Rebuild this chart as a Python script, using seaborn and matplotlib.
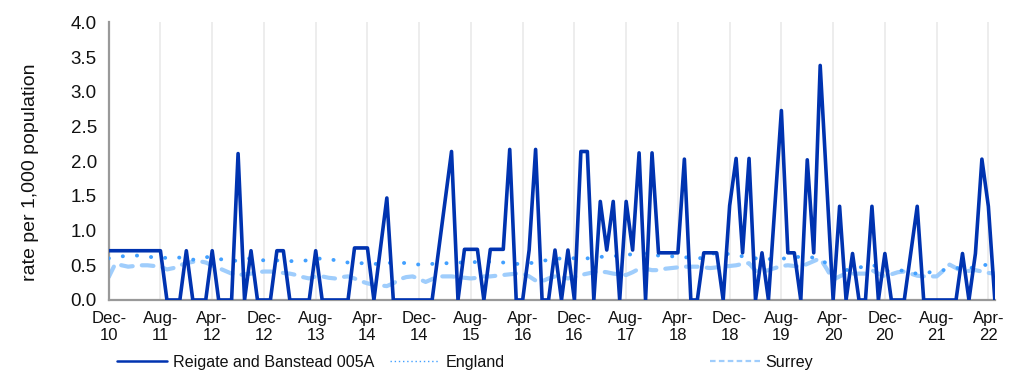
import numpy as np
import pandas as pd
import matplotlib
matplotlib.use("Agg")
import matplotlib.pyplot as plt
from matplotlib.lines import Line2D
import seaborn as sns

sns.set_style("white")
plt.rcParams['font.family'] = ['Liberation Sans', 'DejaVu Sans']

# Monthly rates per 1,000 population, Dec 2010 to May 2022
reigate = [
    0.71, 0.71, 0.71, 0.71, 0.71, 0.71, 0.71, 0.71, 0.71, 0.00,
    0.00, 0.00, 0.71, 0.00, 0.00, 0.00, 0.71, 0.00, 0.00, 0.00,
    2.11, 0.00, 0.71, 0.00, 0.00, 0.00, 0.71, 0.71, 0.00, 0.00,
    0.00, 0.00, 0.71, 0.00, 0.00, 0.00, 0.00, 0.00, 0.75, 0.75,
    0.75, 0.00, 0.74, 1.47, 0.00, 0.00, 0.00, 0.00, 0.00, 0.00,
    0.00, 0.71, 1.43, 2.14, 0.00, 0.73, 0.73, 0.73, 0.00, 0.73,
    0.73, 0.73, 2.17, 0.00, 0.00, 0.72, 2.17, 0.00, 0.00, 0.72,
    0.00, 0.72, 0.00, 2.14, 2.14, 0.00, 1.42, 0.72, 1.42, 0.00,
    1.42, 0.72, 2.12, 0.00, 2.12, 0.68, 0.68, 0.68, 0.68, 2.03,
    0.00, 0.00, 0.68, 0.68, 0.68, 0.00, 1.36, 2.04, 0.68, 2.04,
    0.00, 0.68, 0.00, 1.37, 2.73, 0.68, 0.68, 0.00, 2.02, 0.68,
    3.38, 1.69, 0.00, 1.35, 0.00, 0.67, 0.00, 0.00, 1.35, 0.00,
    0.67, 0.00, 0.00, 0.00, 0.67, 1.35, 0.00, 0.00, 0.00, 0.00,
    0.00, 0.00, 0.67, 0.00, 0.67, 2.03, 1.35, 0.00,
]
england = [
    0.60, 0.62, 0.63, 0.63, 0.64, 0.64, 0.63, 0.61, 0.60, 0.61,
    0.62, 0.61, 0.59, 0.58, 0.60, 0.62, 0.61, 0.59, 0.58, 0.56,
    0.57, 0.59, 0.60, 0.59, 0.57, 0.56, 0.57, 0.57, 0.56, 0.56,
    0.56, 0.58, 0.59, 0.60, 0.60, 0.57, 0.55, 0.54, 0.54, 0.53,
    0.53, 0.52, 0.52, 0.53, 0.54, 0.54, 0.53, 0.52, 0.51, 0.51,
    0.52, 0.53, 0.53, 0.53, 0.54, 0.54, 0.54, 0.55, 0.55, 0.55,
    0.55, 0.54, 0.53, 0.52, 0.52, 0.53, 0.54, 0.56, 0.58, 0.59,
    0.60, 0.61, 0.60, 0.59, 0.60, 0.61, 0.62, 0.63, 0.63, 0.64,
    0.65, 0.66, 0.68, 0.67, 0.66, 0.64, 0.64, 0.63, 0.62, 0.62,
    0.60, 0.59, 0.62, 0.66, 0.68, 0.67, 0.66, 0.64, 0.63, 0.62,
    0.60, 0.60, 0.59, 0.59, 0.59, 0.61, 0.62, 0.62, 0.62, 0.61,
    0.60, 0.52, 0.38, 0.40, 0.43, 0.45, 0.47, 0.48, 0.51, 0.47,
    0.42, 0.42, 0.43, 0.42, 0.39, 0.38, 0.39, 0.40, 0.41, 0.43,
    0.45, 0.46, 0.46, 0.46, 0.47, 0.51, 0.50, 0.48,
]
surrey = [
    0.33, 0.52, 0.50, 0.48, 0.49, 0.50, 0.50, 0.49, 0.48, 0.44,
    0.46, 0.50, 0.53, 0.55, 0.56, 0.54, 0.50, 0.46, 0.42, 0.38,
    0.36, 0.37, 0.38, 0.40, 0.41, 0.41, 0.40, 0.39, 0.38, 0.36,
    0.33, 0.31, 0.34, 0.34, 0.32, 0.31, 0.33, 0.34, 0.31, 0.27,
    0.24, 0.22, 0.21, 0.20, 0.24, 0.30, 0.33, 0.34, 0.30, 0.26,
    0.30, 0.34, 0.34, 0.34, 0.33, 0.32, 0.31, 0.32, 0.34, 0.34,
    0.35, 0.36, 0.37, 0.38, 0.38, 0.34, 0.28, 0.27, 0.31, 0.34,
    0.33, 0.31, 0.33, 0.36, 0.38, 0.40, 0.41, 0.40, 0.38, 0.37,
    0.36, 0.40, 0.45, 0.45, 0.43, 0.43, 0.45, 0.46, 0.47, 0.48,
    0.48, 0.48, 0.47, 0.46, 0.47, 0.48, 0.49, 0.50, 0.52, 0.53,
    0.42, 0.41, 0.43, 0.46, 0.49, 0.50, 0.49, 0.48, 0.52, 0.56,
    0.60, 0.45, 0.29, 0.34, 0.38, 0.38, 0.38, 0.38, 0.43, 0.38,
    0.34, 0.37, 0.40, 0.41, 0.38, 0.35, 0.34, 0.34, 0.34, 0.42,
    0.51, 0.46, 0.41, 0.42, 0.43, 0.41, 0.39, 0.38,
]
tick_labels = ["Dec-\n10", "Aug-\n11", "Apr-\n12", "Dec-\n12", "Aug-\n13", "Apr-\n14",
               "Dec-\n14", "Aug-\n15", "Apr-\n16", "Dec-\n16", "Aug-\n17", "Apr-\n18",
               "Dec-\n18", "Aug-\n19", "Apr-\n20", "Dec-\n20", "Aug-\n21", "Apr-\n22"]
series_names = ["Reigate and Banstead 005A", "England", "Surrey"]

month = np.arange(len(reigate))
df = pd.DataFrame({"month": month, "reigate": reigate,
                   "england": england, "surrey": surrey})

colors = {"reigate": "#0033b0", "england": "#42a0ff", "surrey": "#9fcdfc"}
surrey_dash = (0, (2.8, 2.2))
england_dot = (0, (0.05, 3.6))

fig = plt.figure(figsize=(10.17, 3.74), dpi=100)
ax = fig.add_axes([0.1069, 0.1979, 0.9782 - 0.1069, 0.940 - 0.1979])

ax.grid(axis="x", color="#ececec", lw=1.3)
ax.set_axisbelow(True)

sns.lineplot(data=df, x="month", y="surrey", ax=ax, color=colors["surrey"], lw=3.0,
             linestyle=surrey_dash, dash_capstyle="round", legend=False, zorder=2)
sns.lineplot(data=df, x="month", y="england", ax=ax, color=colors["england"], lw=2.8,
             linestyle=england_dot, dash_capstyle="round", legend=False, zorder=3)
sns.lineplot(data=df, x="month", y="reigate", ax=ax, color=colors["reigate"], lw=2.6,
             legend=False, zorder=4)

ax.set_xlim(0, len(reigate) - 1)
ax.set_ylim(0, 4.0)
yt = np.arange(0, 4.01, 0.5)
ax.set_yticks(yt)
ax.set_yticklabels([f"{v:.1f}" for v in yt], fontsize=13.5)
ax.set_xticks(np.arange(0, len(reigate), 8))
ax.set_xticklabels(tick_labels, linespacing=1.2, fontsize=12)
ax.set_xlabel("")
ax.set_ylabel("rate per 1,000 population", fontsize=14, color="#111111")
ax.yaxis.label.set_va("center")
ax.yaxis.set_label_coords(-0.0888, 0.461)

for s in ["top", "right"]:
    ax.spines[s].set_visible(False)
for s in ["left", "bottom"]:
    ax.spines[s].set_color("#999999")
    ax.spines[s].set_linewidth(1.6)
ax.tick_params(axis="both", which="major", direction="out", length=5,
               width=1.2, color="#999999", labelcolor="#111111")
ax.tick_params(axis="x", pad=3)

# Legend keys drawn a little lighter than the plotted lines
handles = [
    Line2D([], [], color=colors["reigate"], lw=1.8),
    Line2D([], [], color=colors["england"], lw=1.0, linestyle=(0, (1, 2))),
    Line2D([], [], color=colors["surrey"], lw=1.6, linestyle=(0, (2.5, 1.5))),
]
legend_x = [117 / 1017, 390 / 1017, 710 / 1017]
for h, name, lx in zip(handles, series_names, legend_x):
    leg = fig.legend(handles=[h], labels=[name], loc="center left",
                     bbox_to_anchor=(lx, 1 - 362 / 374), frameon=False,
                     fontsize=11.6, handlelength=3.1, handletextpad=0.35,
                     borderpad=0, borderaxespad=0)
    for t in leg.get_texts():
        t.set_color("#111111")

fig.savefig("out.png", dpi=100)
